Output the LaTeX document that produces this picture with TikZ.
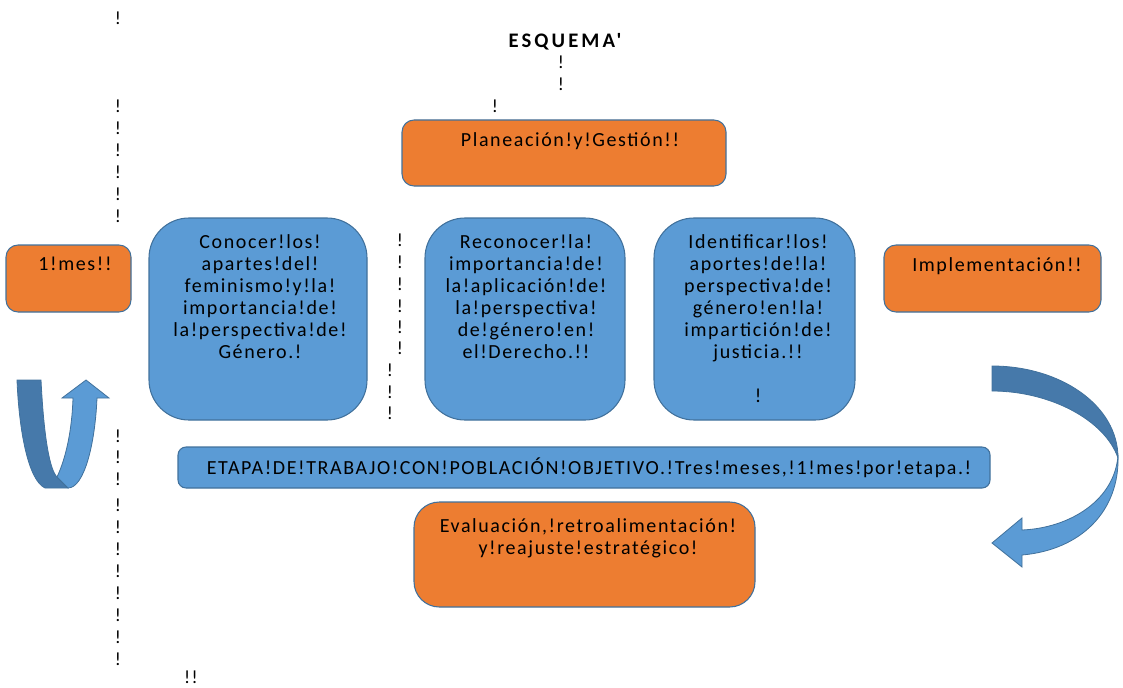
\documentclass[tikz,border=0pt]{standalone}
\usepackage{fontspec}
\setmainfont{Carlito}
\newfontfamily\boxfont{Carlito}[LetterSpace=8, Ligatures=TeXOff]
\newfontfamily\titlefont{Carlito}[LetterSpace=15, Ligatures=TeXOff]
\definecolor{orangefill}{HTML}{ED7D31}
\definecolor{bluefill}{HTML}{5B9BD5}
\definecolor{edgeblue}{HTML}{41719C}
\definecolor{darkband}{HTML}{4679AA}
\tikzset{
  box/.style={draw=edgeblue, line width=0.8pt, inner sep=0pt},
  orangebox/.style={box, fill=orangefill},
  bluebox/.style={box, fill=bluefill},
  boxtext/.style={anchor=north, inner sep=0pt, align=center, font=\boxfont\fontsize{15}{16.5}\selectfont},
  bang/.style={inner sep=0pt, font=\boxfont\fontsize{14}{16.5}\selectfont}
}
\begin{document}
\begin{tikzpicture}[x=0.75pt,y=-0.75pt]
    \useasboundingbox (0,0) rectangle (1123,688);

    % title and stray marks
    \node[bang, font=\titlefont\fontsize{15.5}{16.5}\selectfont\bfseries] (title) at (565,42) {ESQUEMA'};
    \node[bang] (t1) at (118,18) {!};
    \node[bang] (t2) at (561,62) {!};
    \node[bang] (t3) at (561,84) {!};
    \node[bang] (t4) at (495,106) {!};
    \foreach \y [count=\i] in {106,128,150,172,194,216} \node[bang] (l\i) at (118,\y) {!};
    \foreach \y [count=\i] in {240,262,284,306,327,348} \node[bang] (m\i) at (400,\y) {!};
    \foreach \y [count=\i] in {370,392,413} \node[bang] (n\i) at (390,\y) {!};
    \foreach \y [count=\i] in {436,457,479,505,527,549,571,593,615,637,659} \node[bang] (d\i) at (118,\y) {!};
    \node[bang] (t5) at (191,677) {!!};

    % boxes
    \node[orangebox, rounded corners=9pt, minimum width=243pt, minimum height=49.5pt] (plan) at (564,153) {};
    \node[boxtext] (plantxt) at (570,132) {Planeación!y!Gestión!!};

    \node[orangebox, rounded corners=9pt, minimum width=93.75pt, minimum height=50.25pt] (mes) at (68.5,278.5) {};
    \node[boxtext] (mestxt) at (75,257) {1!mes!!};

    \node[bluebox, rounded corners=30pt, minimum width=163.5pt, minimum height=151.5pt] (conocer) at (258,319) {};
    \node[boxtext] (conocertxt) at (260,234) {Conocer!los!\\apartes!del!\\feminismo!y!la!\\importancia!de!\\la!perspectiva!de!\\Género.!};

    \node[bluebox, rounded corners=30pt, minimum width=150pt, minimum height=151.5pt] (reconocer) at (525,319) {};
    \node[boxtext] (reconocertxt) at (526,234) {Reconocer!la!\\importancia!de!\\la!aplicación!de!\\la!perspectiva!\\de!género!en!\\el!Derecho.!!};

    \node[bluebox, rounded corners=30pt, minimum width=150.75pt, minimum height=151.5pt] (identificar) at (754.5,319) {};
    \node[boxtext] (identificartxt) at (758,234) {Identificar!los!\\aportes!de!la!\\perspectiva!de!\\género!en!la!\\impartición!de!\\justicia.!!\\ \\!};

    \node[orangebox, rounded corners=9pt, minimum width=162.75pt, minimum height=50.25pt] (impl) at (992.5,278.5) {};
    \node[boxtext] (impltxt) at (997,257) {Implementación!!};

    \node[bluebox, rounded corners=6pt, minimum width=609pt, minimum height=30.75pt] (etapa) at (584,467.5) {};
    \node[boxtext, anchor=center] (etapatxt) at (589,468) {ETAPA!DE!TRABAJO!CON!POBLACIÓN!OBJETIVO.!Tres!meses,!1!mes!por!etapa.!};

    \node[orangebox, rounded corners=19pt, minimum width=255.75pt, minimum height=78.75pt] (eval) at (584.5,554.5) {};
    \node[boxtext] (evaltxt) at (588,518) {Evaluación,!retroalimentación!\\y!reajuste!estratégico!};

    % left u-turn arrow
    \draw[edgeblue, line width=0.6pt, fill=darkband] (17,380) -- (41,380) .. controls (44,440) and (50,470) .. (57,477) -- (68,488) -- (45,488) .. controls (28,480) and (19,430) .. (17,380) -- cycle;
    \draw[edgeblue, line width=0.6pt, fill=bluefill] (57,477) .. controls (66,458) and (72,430) .. (73,398) -- (62,398) -- (86,380) -- (109,398) -- (97,398) .. controls (95,445) and (84,488) .. (68,488) -- cycle;

    % right curved arrow
    \draw[edgeblue, line width=0.6pt, fill=darkband] (992,366) .. controls (1060,366) and (1118,405) .. (1118,458) .. controls (1105,420) and (1050,391) .. (992,391) -- cycle;
    \draw[edgeblue, line width=0.6pt, fill=bluefill] (1118,455) .. controls (1115,500) and (1070,528) .. (1022,530) -- (1022,518) -- (992,543) -- (1022,567) -- (1022,555) .. controls (1080,550) and (1120,512) .. (1118,455) -- cycle;
\end{tikzpicture}
\end{document}
